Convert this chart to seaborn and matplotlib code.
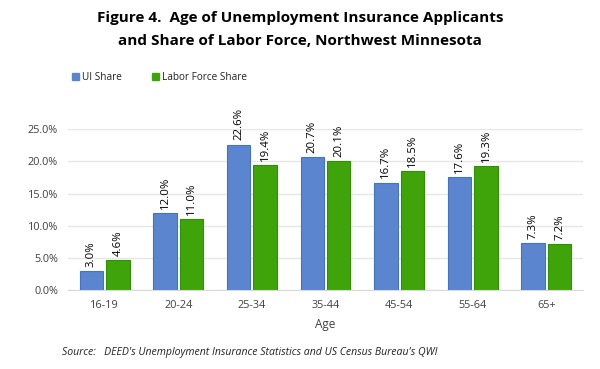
import numpy as np
import pandas as pd
import matplotlib.pyplot as plt
import seaborn as sns
from matplotlib.ticker import PercentFormatter

# data
ages = ["16-19", "20-24", "25-34", "35-44", "45-54", "55-64", "65+"]
ui_share = [3.0, 12.0, 22.6, 20.7, 16.7, 17.6, 7.3]
lf_share = [4.6, 11.0, 19.4, 20.1, 18.5, 19.3, 7.2]
series = ["UI Share", "Labor Force Share"]

df = pd.DataFrame({
    "Age": ages * 2,
    "Share": ui_share + lf_share,
    "Series": [series[0]] * len(ages) + [series[1]] * len(ages),
})

sns.set_style("white")
plt.rcParams["font.family"] = ["Open Sans", "DejaVu Sans"]

fig = plt.figure(figsize=(6, 3.69), dpi=100)
ax = fig.add_axes([0.113, 0.214, 0.859, 0.436])

palette = {"UI Share": "#5B85CF", "Labor Force Share": "#3FA30A"}
edges = {"UI Share": "#4472C4", "Labor Force Share": "#2E9200"}
sns.barplot(data=df, x="Age", y="Share", hue="Series", palette=palette,
            width=0.72, gap=0.12, ax=ax, legend=False, saturation=1)

for cont, name in zip(ax.containers, series):
    for bar in cont:
        bar.set_edgecolor(edges[name])
        bar.set_linewidth(0.8)
    ax.bar_label(cont, labels=[f"{v:.1f}%" for v in cont.datavalues],
                 rotation=90, padding=3, fontsize=8.2, color="black")

ax.set_ylim(0, 25)
ax.set_yticks(np.arange(0, 26, 5))
ax.yaxis.set_major_formatter(PercentFormatter(decimals=1))
ax.grid(axis="y", color="#e6e6e6", linewidth=1)
ax.set_axisbelow(True)
for s in ["top", "right", "left"]:
    ax.spines[s].set_visible(False)
ax.spines["bottom"].set_color("#d9d9d9")
ax.tick_params(axis="both", length=0, labelsize=7.8, colors="#404040", pad=7)
ax.set_xlabel("Age", fontsize=8.5, color="#404040", labelpad=5)
ax.set_ylabel("")

# legend
handles = [plt.Rectangle((0, 0), 1, 1, color=palette[s]) for s in series]
fig.legend(handles, series, loc="center left", bbox_to_anchor=(0.105, 0.79),
           ncol=2, frameon=False, fontsize=7.2, handlelength=0.7, handleheight=0.7,
           handletextpad=0.3, columnspacing=3.0, labelcolor="#222222")

fig.text(0.5, 0.95, "Figure 4.  Age of Unemployment Insurance Applicants",
         ha="center", va="center", fontsize=11, fontweight="bold", color="black")
fig.text(0.5, 0.89, "and Share of Labor Force, Northwest Minnesota",
         ha="center", va="center", fontsize=11, fontweight="bold", color="black")
fig.text(0.103, 0.046,
         "Source:   DEED's Unemployment Insurance Statistics and US Census Bureau's QWI",
         ha="left", va="center", fontsize=7.6, style="italic", color="#222222")

fig.savefig("out.png", dpi=100)
